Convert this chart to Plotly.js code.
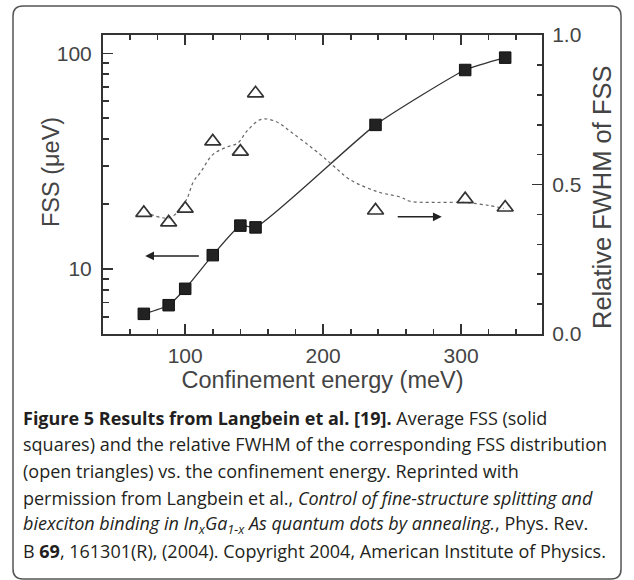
<!DOCTYPE html>
<html>
<head>
<meta charset="utf-8">
<script src="https://cdn.plot.ly/plotly-3.0.1.min.js"></script>
<style>
html,body{margin:0;padding:0;background:#fff;}
#chart{width:634px;height:580px;}
</style>
</head>
<body>
<div id="chart"></div>
<script>
// ---- data ----
const energy = [70, 88, 100, 120, 140, 151, 238, 303, 332];          // meV
const fss = [6.2, 6.8, 8.1, 11.6, 15.9, 15.6, 46.6, 83.7, 95.5];      // µeV
const fwhmRel = [0.405, 0.373, 0.419, 0.644, 0.61, 0.805, 0.413, 0.451, 0.423];
const fitEnergy = [75, 82, 88, 94, 101, 106, 111, 120, 130, 138, 145, 155, 165, 178, 198, 208, 220, 240, 256, 263, 280, 302, 320, 331];
const fitFwhm = [0.40, 0.39, 0.388, 0.405, 0.45, 0.51, 0.54, 0.60, 0.625, 0.638, 0.68, 0.718, 0.712, 0.671, 0.60, 0.56, 0.515, 0.475, 0.458, 0.444, 0.44, 0.44, 0.43, 0.42];
const xTicks = [100, 200, 300];
const xMinor = [60, 80, 120, 140, 160, 180, 220, 240, 260, 280, 320, 340];
const yTicks = [10, 100];
const yMinor = [6, 7, 8, 9, 20, 30, 40, 50, 60, 70, 80, 90];
const y2Ticks = [0, 0.5, 1.0];
const y2TickText = ['0.0', '0.5', '1.0'];
const y2Minor = [0.1, 0.2, 0.3, 0.4, 0.6, 0.7, 0.8, 0.9];
const xTitle = 'Confinement energy (meV)';
const yTitle = 'FSS (\u03bceV)';
const y2Title = 'Relative FWHM of FSS';
const captionLines = [
  '<b>Figure 5 Results from Langbein et al. [19].</b> Average FSS (solid',
  'squares) and the relative FWHM of the corresponding FSS distribution',
  '(open triangles) vs. the confinement energy. Reprinted with',
  'permission from Langbein et al., <i>Control of fine-structure splitting and</i>',
  '<i>biexciton binding in In<sub>x</sub>Ga<sub>1-x</sub> As quantum dots by annealing.</i>, Phys. Rev.',
  'B <b>69</b>, 161301(R), (2004). Copyright 2004, American Institute of Physics.'
];

// ---- layout geometry (pixels) ----
const W = 634, H = 580;
const L = 103, R = 542, T = 35, B = 334;
const px2x = px => (px - L) / (R - L);
const py2y = py => (B - py) / (B - T);
const P = (px, py) => px2x(px).toFixed(4) + ',' + py2y(py).toFixed(4);

const ink = '#333333';
const axisFont = {family: 'Liberation Sans, Arial, sans-serif', size: 21, color: '#444'};
const titleFont = {family: 'Liberation Sans, Arial, sans-serif', size: 23.5, color: '#444'};
const y2TitleFont = {family: 'Liberation Sans, Arial, sans-serif', size: 25.5, color: '#444'};

const traces = [
  {
    x: energy, y: fss, type: 'scatter', mode: 'lines+markers',
    line: {color: ink, width: 1.3, shape: 'spline', smoothing: 0.5},
    marker: {symbol: 'square', size: 11.5, color: '#222', line: {color: '#111', width: 1}},
    xaxis: 'x', yaxis: 'y', hoverinfo: 'skip'
  },
  {
    x: fitEnergy, y: fitFwhm, type: 'scatter', mode: 'lines',
    line: {color: '#666', width: 1.2, dash: 'dot', shape: 'spline', smoothing: 1},
    xaxis: 'x', yaxis: 'y2', hoverinfo: 'skip'
  },
  {
    x: energy, y: fwhmRel, type: 'scatter', mode: 'markers',
    marker: {symbol: 'triangle-up-open', size: 14, color: ink, line: {color: ink, width: 1.7}},
    xaxis: 'x', yaxis: 'y2', hoverinfo: 'skip'
  }
];

const r = 10, bx0 = 13, by0 = 6, bx1 = 621, by1 = 579;
const borderPath = 'M' + P(bx0 + r, by0) + ' L' + P(bx1 - r, by0) + ' Q' + P(bx1, by0) + ' ' + P(bx1, by0 + r) +
  ' L' + P(bx1, by1 - r) + ' Q' + P(bx1, by1) + ' ' + P(bx1 - r, by1) +
  ' L' + P(bx0 + r, by1) + ' Q' + P(bx0, by1) + ' ' + P(bx0, by1 - r) +
  ' L' + P(bx0, by0 + r) + ' Q' + P(bx0, by0) + ' ' + P(bx0 + r, by0) + ' Z';

const captionY = [418, 444.5, 471, 497.5, 524, 550.5];
const annotations = captionLines.map((t, i) => ({
  text: t, xref: 'paper', yref: 'paper', x: px2x(21), y: py2y(captionY[i]),
  xanchor: 'left', yanchor: 'middle', align: 'left', showarrow: false,
  font: {family: 'Open Sans, Noto Sans, sans-serif', size: 18, color: '#231f20'}
}));
// y-axis titles placed where the reference shows them
annotations.push({
  text: yTitle, xref: 'paper', yref: 'paper', x: px2x(51), y: py2y(172),
  xanchor: 'center', yanchor: 'middle', textangle: -90, showarrow: false, font: titleFont
});
annotations.push({
  text: y2Title, xref: 'paper', yref: 'paper', x: px2x(602), y: py2y(197),
  xanchor: 'center', yanchor: 'middle', textangle: -90, showarrow: false, font: y2TitleFont
});
// direction arrows
annotations.push({
  text: '', xref: 'x', yref: 'y', x: 71, y: Math.log10(11.5),
  axref: 'x', ayref: 'y', ax: 111, ay: Math.log10(11.5),
  showarrow: true, arrowhead: 2, arrowsize: 1.1, arrowwidth: 1.6, arrowcolor: '#222'
});
annotations.push({
  text: '', xref: 'x', yref: 'y2', x: 286, y: 0.392,
  axref: 'x', ayref: 'y2', ax: 253, ay: 0.392,
  showarrow: true, arrowhead: 2, arrowsize: 1.1, arrowwidth: 1.6, arrowcolor: '#222'
});

const layout = {
  width: W, height: H,
  margin: {l: L, r: W - R, t: T, b: H - B, pad: 0},
  paper_bgcolor: '#fff', plot_bgcolor: '#fff',
  showlegend: false,
  xaxis: {
    range: [40.4, 358.7], type: 'linear',
    tickmode: 'array', tickvals: xTicks, ticks: 'inside', ticklen: 10, tickwidth: 1.6, tickcolor: ink,
    minor: {tickmode: 'array', tickvals: xMinor, ticks: 'inside', ticklen: 5, tickwidth: 1.6, tickcolor: ink, showgrid: false},
    showline: true, linecolor: ink, linewidth: 2, mirror: 'ticks', showgrid: false, zeroline: false,
    tickfont: axisFont, ticklabelstandoff: 2,
    title: {text: xTitle, font: titleFont, standoff: 2}
  },
  yaxis: {
    type: 'log', range: [0.699, 2.085],
    tickmode: 'array', tickvals: yTicks, ticktext: ['10', '100'], ticks: 'inside', ticklen: 10, tickwidth: 1.6, tickcolor: ink,
    minor: {tickmode: 'array', tickvals: yMinor, ticks: 'inside', ticklen: 6, tickwidth: 1.6, tickcolor: ink, showgrid: false},
    showline: true, linecolor: ink, linewidth: 2, showgrid: false, zeroline: false,
    tickfont: axisFont, ticklabelstandoff: 5
  },
  yaxis2: {
    overlaying: 'y', side: 'right', range: [0, 1.0],
    tickmode: 'array', tickvals: y2Ticks, ticktext: y2TickText, ticks: 'inside', ticklen: 10, tickwidth: 1.6, tickcolor: ink,
    minor: {tickmode: 'array', tickvals: y2Minor, ticks: 'inside', ticklen: 5, tickwidth: 1.6, tickcolor: ink, showgrid: false},
    showline: true, linecolor: ink, linewidth: 2, showgrid: false, zeroline: false,
    tickfont: axisFont, ticklabelstandoff: 4
  },
  shapes: [{
    type: 'path', xref: 'paper', yref: 'paper', path: borderPath,
    line: {color: '#555', width: 1.5}, fillcolor: 'rgba(0,0,0,0)', layer: 'below'
  }],
  annotations: annotations
};

Plotly.newPlot('chart', traces, layout, {displayModeBar: false, staticPlot: true});
</script>
</body>
</html>
